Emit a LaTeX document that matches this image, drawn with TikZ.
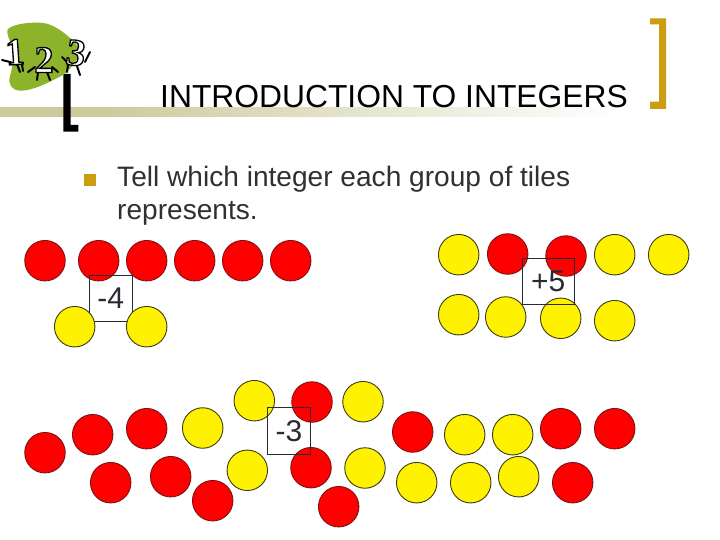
\documentclass[tikz,border=0pt]{standalone}
\usepackage{fontspec}
\setmainfont{Liberation Sans}
\newfontfamily\logofont{Liberation Serif}[BoldFont={Liberation Serif Bold}]
\definecolor{rulegreen}{HTML}{CCCA9C}
\definecolor{blobgreen}{HTML}{8DB32B}
\definecolor{goldish}{HTML}{CB9D10}
\definecolor{bodygray}{HTML}{303030}
\definecolor{labelgray}{HTML}{2A2A32}
\definecolor{redline}{HTML}{7A1414}
\definecolor{yellowline}{HTML}{3C3C10}
\pgfdeclarehorizontalshading{rulefade}{100bp}{color(0bp)=(rulegreen); color(33bp)=(rulegreen); color(75bp)=(white); color(100bp)=(white)}
\newcommand\outlined[1]{\special{pdf:literal 2 Tr 1.3 w 0 0 0 RG}#1\special{pdf:literal 0 Tr 0 w}}
\tikzset{
  redtile/.style={circle,draw=redline,fill=red,line width=0.9pt,minimum size=40.5pt,inner sep=0pt},
  yellowtile/.style={circle,draw=yellowline,fill=yellow,line width=0.9pt,minimum size=40.5pt,inner sep=0pt},
  answerbox/.style={draw=labelgray,line width=0.8pt,inner sep=0pt,text=labelgray,font=\fontsize{30}{32}\selectfont},
  bodytext/.style={anchor=base west,inner sep=0pt,text=bodygray,font=\fontsize{28.1}{33}\selectfont},
  logodigit/.style={inner sep=0pt,text=white,font=\logofont\bfseries\fontsize{38}{38}\selectfont},
  limb/.style={line width=2pt,black,line cap=round}
}
\begin{document}
\begin{tikzpicture}[x=1pt,y=-1pt]
\useasboundingbox (0,0) rectangle (720,540);
% title rule
\shade[shading=rulefade] (0,107.7) rectangle (620,116.7);
% brackets
\fill[black] (63.3,74) -- (70.7,74) -- (70.7,125) -- (78.3,125) -- (78.3,131.7) -- (63.3,131.7) -- cycle;
\fill[goldish] (650,18.3) -- (666,18.3) -- (666,109) -- (650,109) -- (650,101.7) -- (659,101.7) -- (659,24.3) -- (650,24.3) -- cycle;
% logo
\fill[blobgreen] (40,22.7) .. controls (55,23) and (72,38) .. (81,50)
  .. controls (78,60) and (70,70) .. (63,75)
  .. controls (48,83) and (32,91) .. (20,90.7)
  .. controls (11,90) and (8,84) .. (10,76)
  .. controls (13,68) and (14,50) .. (11,43)
  .. controls (7,35) and (6,30) .. (9,28)
  .. controls (18,23) and (30,22.5) .. (40,22.7) -- cycle;
\draw[limb] (2,60) -- (10,62) -- (17,65);
\draw[limb] (17,64) -- (20,72) (22,64) -- (23,71);
\draw[limb] (28,72) -- (35,67) (58,72) -- (52,67);
\draw[limb] (38,72) -- (37,80) (47,72) -- (50,80);
\draw[limb] (62,57) -- (68,63) (90,52) -- (85,62);
\draw[limb] (68,65) -- (67,72) (77,66) -- (80,75);
\node[logodigit,rotate=4] (one) at (15,52) {\outlined{1}};
\node[logodigit] (two) at (44,60) {\outlined{2}};
\node[logodigit,rotate=-8] (three) at (76,53) {\outlined{3}};
% title and body
\node[anchor=base west,inner sep=0pt,font=\fontsize{31.8}{34}\selectfont] (title) at (160,107.7) {INTRODUCTION TO INTEGERS};
\fill[goldish] (84,174) rectangle (96,186);
\node[bodytext] (line one) at (117,186.7) {Tell which integer each group of tiles};
\node[bodytext] (line two) at (117,220) {represents.};
% group -4
\foreach \n/\x in {a/45,b/98.7,c/146.7,d/194.7,e/242.7,f/290.7}
  \node[redtile] (four\n) at (\x,260.7) {};
\node[answerbox,minimum width=43pt,minimum height=46pt] (minusfour) at (110.8,298.3) {-4};
\node[yellowtile] (fourg) at (74.7,326.7) {};
\node[yellowtile] (fourh) at (146.7,326.7) {};
% group +5
\foreach \n/\x/\y in {a/458.7/254.7,d/614.7/254.7,e/668.7/254.7,f/458.7/314.7,g/505.7/317,h/560.7/318.3,i/614.7/320.7}
  \node[yellowtile] (five\n) at (\x,\y) {};
\node[redtile] (fiveb) at (507.7,254) {};
\node[redtile] (fivec) at (566,256) {};
\node[answerbox,minimum width=52pt,minimum height=46pt] (plusfive) at (548.3,281.3) {+5};
% group -3
\foreach \n/\x/\y in {a/45/452.7,b/92.7/434.7,c/146.7/428.7,d/110.7/482.7,e/170.7/476.7,f/212.7/500.7,g/312/402,h/311/467.7,i/338.7/506.7,j/412.7/432,k/560.7/428.7,l/614.7/428.7,m/572.7/482.7}
  \node[redtile] (three\n) at (\x,\y) {};
\foreach \n/\x/\y in {n/202.7/428,o/254.3/400.7,p/247.3/470.3,q/363/401.7,r/365/468,s/464.7/434.7,t/512.7/434.7,u/416.7/482.7,v/470.7/482.7,w/518.7/476.7}
  \node[yellowtile] (three\n) at (\x,\y) {};
\node[answerbox,minimum width=43.4pt,minimum height=47.3pt] (minusthree) at (289,430.7) {-3};
\end{tikzpicture}
\end{document}
